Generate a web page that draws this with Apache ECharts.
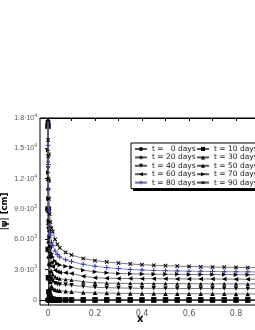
<!DOCTYPE html>
<html><head><meta charset="utf-8">
<script src="https://cdn.jsdelivr.net/npm/echarts@6/dist/echarts.min.js"></script>
<style>html,body{margin:0;padding:0;background:#fff}#c{width:255px;height:330px}</style>
</head><body><div id="c"></div>
<script>
const xs = [0, 0.0005, 0.001, 0.002, 0.004, 0.007, 0.01, 0.015, 0.02, 0.03, 0.04, 0.05, 0.075, 0.1, 0.15, 0.2, 0.25, 0.3, 0.35, 0.4, 0.45, 0.5, 0.55, 0.6, 0.65, 0.7, 0.75, 0.8, 0.85, 0.9, 0.95, 1.0];
const psi_t0  = [0,0,0,0,0,0,0,0,0,0,0,0,0,0,0,0,0,0,0,0,0,0,0,0,0,0,0,0,0,0,0,0];
const psi_t10 = [17200, 9000, 5000, 2200, 800, 300, 120, 40, 10, 0,0,0,0,0,0,0,0,0,0,0,0,0,0,0,0,0,0,0,0,0,0,0];
const psi_t20 = [17300, 11000, 7500, 4200, 2000, 1000, 600, 350, 250, 160, 120, 100, 80, 70, 60, 55, 50, 50, 50, 50, 45, 45, 45, 45, 45, 45, 45, 45, 45, 45, 45, 45];
const psi_t30 = [17400, 12000, 8800, 5800, 3600, 2400, 1800, 1350, 1150, 1000, 940, 900, 850, 810, 740, 700, 675, 655, 645, 635, 628, 622, 617, 613, 609, 606, 603, 600, 598, 596, 594, 592];
const psi_t40 = [17500, 13000, 10000, 7000, 4800, 3400, 2700, 2100, 1850, 1650, 1580, 1540, 1500, 1460, 1330, 1250, 1210, 1185, 1165, 1155, 1148, 1142, 1137, 1133, 1130, 1127, 1124, 1121, 1119, 1117, 1115, 1113];
const psi_t50 = [17500, 13800, 11000, 8000, 5800, 4300, 3500, 2850, 2550, 2300, 2180, 2100, 2030, 1980, 1800, 1700, 1670, 1650, 1640, 1632, 1625, 1618, 1612, 1607, 1603, 1599, 1595, 1591, 1588, 1585, 1582, 1580];
const psi_t60 = [17600, 14400, 11800, 9000, 6800, 5200, 4400, 3700, 3300, 2950, 2800, 2720, 2680, 2620, 2350, 2200, 2150, 2130, 2115, 2105, 2097, 2090, 2083, 2077, 2072, 2067, 2062, 2058, 2054, 2050, 2047, 2044];
const psi_t70 = [17600, 14800, 12600, 10000, 7800, 6200, 5300, 4600, 4250, 3850, 3600, 3450, 3330, 3240, 2950, 2780, 2680, 2620, 2580, 2560, 2548, 2538, 2530, 2524, 2518, 2513, 2508, 2504, 2500, 2496, 2493, 2490];
const psi_t80 = [17700, 15300, 13400, 11000, 8900, 7300, 6400, 5700, 5400, 4850, 4500, 4250, 3970, 3800, 3520, 3340, 3200, 3100, 3020, 2960, 2920, 2890, 2865, 2845, 2828, 2813, 2800, 2789, 2779, 2770, 2762, 2755];
const psi_t90 = [17800, 15800, 14200, 12000, 10000, 8500, 7700, 7100, 6750, 6000, 5500, 5150, 4700, 4450, 4100, 3900, 3760, 3650, 3560, 3490, 3430, 3385, 3345, 3310, 3280, 3255, 3235, 3217, 3200, 3185, 3172, 3160];
const seriesNames = ['t =   0 days','t = 10 days','t = 20 days','t = 30 days','t = 40 days','t = 50 days','t = 60 days','t = 70 days','t = 80 days','t = 90 days'];
const xTickLabels = [0, 0.2, 0.4, 0.6, 0.8, 1.0];
const xMinorTicks = [0, 0.1, 0.2, 0.3, 0.4, 0.5, 0.6, 0.7, 0.8, 0.9, 1.0];
const yTickValues = [0, 3000, 6000, 9000, 12000, 15000, 18000];
const yTickLabels = ['0', '3.0·10{s|3}', '6.0·10{s|3}', '9.0·10{s|3}', '1.2·10{s|4}', '1.5·10{s|4}', '1.8·10{s|4}'];

const allData = [psi_t0, psi_t10, psi_t20, psi_t30, psi_t40, psi_t50, psi_t60, psi_t70, psi_t80, psi_t90];
const plus = 'path://M4,0H6V4H10V6H6V10H4V6H0V4H4Z';
const styles = [
  {symbol:'circle', size:5.5, rot:0},
  {symbol:'rect', size:5.5, rot:0},
  {symbol:'diamond', size:4.5, rot:0},
  {symbol:'triangle', size:4.5, rot:0},
  {symbol:'triangle', size:4.5, rot:180},
  {symbol:'triangle', size:4, rot:0},
  {symbol:'triangle', size:4.5, rot:90},
  {symbol:'triangle', size:4.5, rot:-90},
  {symbol:plus, size:5, rot:0, color:'#3535b5'},
  {symbol:plus, size:5, rot:45}
];

const series = allData.map((d, i) => {
  const st = styles[i];
  const mc = st.color || '#000';
  return {
    name: seriesNames[i],
    type: 'line',
    xAxisIndex: 0,
    data: d.map((v, j) => [xs[j], v]),
    symbol: st.symbol,
    symbolSize: st.size,
    symbolRotate: st.rot,
    showAllSymbol: true,
    itemStyle: {color: mc},
    lineStyle: {color: st.color ? '#6a6ab8' : '#555', width: 0.8},
    z: 2 + i * 0.01
  };
});

const chart = echarts.init(document.getElementById('c'), null, {renderer: 'canvas'});
chart.setOption({
  animation: false,
  backgroundColor: '#fff',
  textStyle: {fontFamily: 'DejaVu Sans'},
  grid: {left: 40, right: -36, top: 118, bottom: 25, containLabel: false, outerBoundsMode: 'none',
    show: true, borderColor: '#000', borderWidth: 1},
  xAxis: [{
    type: 'value', min: -0.034, max: 1.034, position: 'bottom',
    axisLine: {show: true, lineStyle: {color: '#000', width: 1}},
    axisTick: {show: true, inside: false, length: 3, customValues: xMinorTicks, lineStyle: {color: '#000'}},
    axisLabel: {customValues: xTickLabels, color: '#555', fontSize: 8, margin: 5,
      formatter: v => (v === 0 ? '0' : String(v))},
    splitLine: {show: false}
  }, {
    type: 'value', min: -0.034, max: 1.034, position: 'top',
    axisLine: {show: true, lineStyle: {color: '#000', width: 1}},
    axisTick: {show: true, inside: true, length: 3, customValues: xMinorTicks, lineStyle: {color: '#000'}},
    axisLabel: {show: false},
    splitLine: {show: false}
  }],
  yAxis: {
    type: 'value', min: -500, max: 18000,
    name: '|ψ| [cm]', nameLocation: 'middle', nameRotate: 90, nameGap: 31, nameMoveOverlap: false,
    nameTextStyle: {fontSize: 8.5, fontWeight: 'bold', color: '#000', fontFamily: 'DejaVu Sans'},
    axisLine: {show: true, lineStyle: {color: '#000', width: 1}},
    axisTick: {show: true, inside: false, length: 3, customValues: yTickValues, lineStyle: {color: '#000'}},
    axisLabel: {customValues: yTickValues, color: '#555', fontSize: 7, margin: 3, fontFamily: 'Liberation Sans',
      formatter: v => yTickLabels[yTickValues.indexOf(v)] || '',
      rich: {s: {fontSize: 5, color: '#555', verticalAlign: 'bottom', padding: [0, 0, 5, 0]}}},
    splitLine: {show: false}
  },
  legend: {
    left: 131, top: 143, width: 130, orient: 'horizontal',
    itemWidth: 12, itemHeight: 5, itemGap: 0.4,
    padding: [2, 3, 2, 3],
    backgroundColor: '#fff', borderColor: '#000', borderWidth: 1,
    textStyle: {fontSize: 7.5, color: '#222', width: 41, lineHeight: 8, fontFamily: 'DejaVu Sans'},
    data: seriesNames
  },
  graphic: [
    {type: 'rect', z: 3, shape: {x: 133, y: 146, width: 140, height: 45}, style: {fill: '#000'}},
    {type: 'text', left: 137, top: 314, style: {text: 'x', fontSize: 10, fontWeight: 'bold', fill: '#000', fontFamily: 'DejaVu Sans'}}
  ],
  series: series
});
</script></body></html>
